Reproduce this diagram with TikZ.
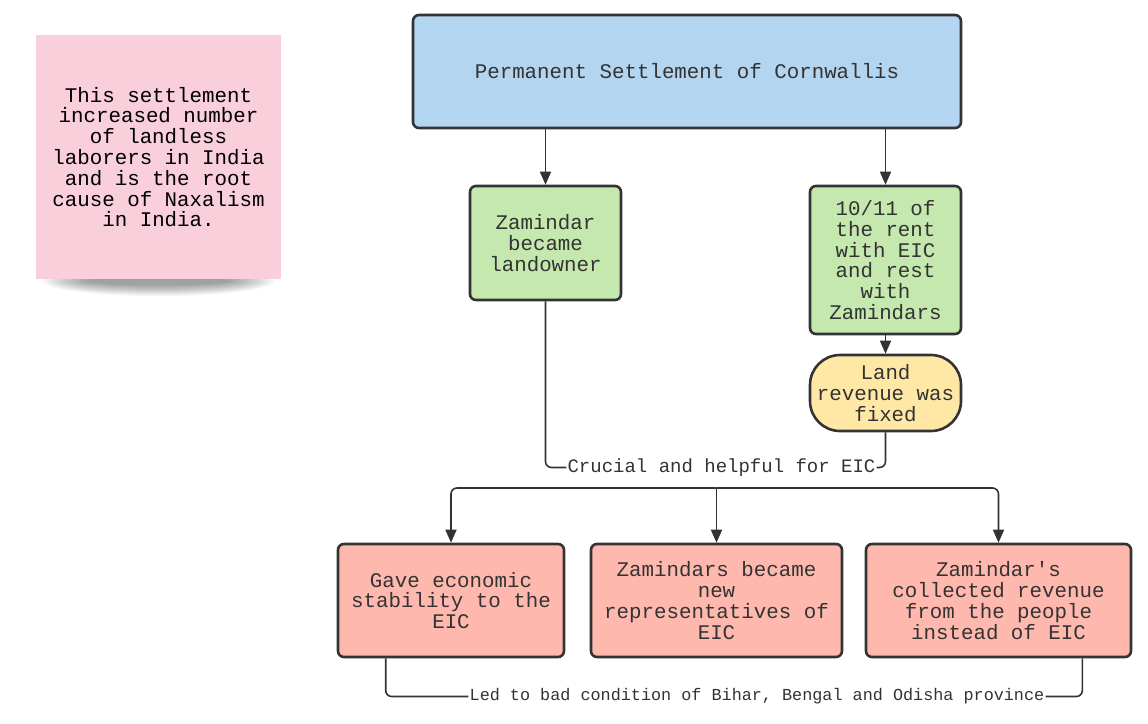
\documentclass[tikz,border=0pt]{standalone}
\usepackage{fontspec}
\newfontfamily\mono{Liberation Mono}
\usetikzlibrary{arrows.meta}
\definecolor{dk}{HTML}{333333}
\definecolor{notec}{RGB}{249,207,220}
\definecolor{bluec}{RGB}{179,213,240}
\definecolor{greenc}{RGB}{197,232,174}
\definecolor{yellowc}{RGB}{255,232,166}
\definecolor{redc}{RGB}{255,184,174}
\tikzset{
  box/.style={draw=dk, line width=2.6pt, rounded corners=6pt, inner sep=0pt, align=center,
    text=dk, font=\fontsize{20.8}{20.8}\selectfont\mono},
  conn/.style={draw=dk, line width=1.6pt, rounded corners=6pt},
  arr/.style={conn, -{Triangle[length=13pt,width=11pt]}},
  lbl/.style={fill=white, inner sep=1pt, text=dk},
}
\begin{document}
\begin{tikzpicture}[x=1pt,y=-1pt]
\useasboundingbox[fill=white] (0,0) rectangle (1148,723);
% soft shadow of note
\foreach \i in {0,...,11}{
  \pgfmathsetmacro{\wr}{116-4*\i}
  \pgfmathsetmacro{\hr}{15-1*\i}
  \fill[black, opacity=0.035] (158.5,281) ellipse [x radius=\wr, y radius=\hr];
}
\node[fill=notec, minimum width=245pt, minimum height=244pt, inner sep=0pt, align=center,
  font=\fontsize{20.8}{20.8}\selectfont\mono] (note) at (158.5,157)
  {This settlement\\increased number\\of landless\\laborers in India\\and is the root\\cause of Naxalism\\in India.};
\node[box, fill=bluec, minimum width=548pt, minimum height=113pt] (top) at (687,71.5)
  {Permanent Settlement of Cornwallis};
\node[box, fill=greenc, minimum width=151pt, minimum height=114pt] (gl) at (545.5,243)
  {Zamindar\\became\\landowner};
\node[box, fill=greenc, minimum width=151pt, minimum height=148pt] (gr) at (885.5,260)
  {10/11 of\\the rent\\with EIC\\and rest\\with\\Zamindars};
\node[box, fill=yellowc, rounded corners=30pt, minimum width=151pt, minimum height=76pt] (yl) at (885.5,393)
  {Land\\revenue was\\fixed};
\node[box, fill=redc, minimum width=226pt, minimum height=113pt] (rl) at (451,600.5)
  {Gave economic\\stability to the\\EIC};
\node[box, fill=redc, minimum width=251pt, minimum height=113pt] (rm) at (716.5,600.5)
  {Zamindars became\\new\\representatives of\\EIC};
\node[box, fill=redc, minimum width=265pt, minimum height=113pt] (rr) at (998.5,600.5)
  {Zamindar's\\collected revenue\\from the people\\instead of EIC};
% connectors
\draw[arr] (top.south -| gl.north) -- (gl.north);
\draw[arr] (top.south -| gr.north) -- (gr.north);
\draw[arr] (gr.south) -- (yl.north);
\node[lbl, font=\fontsize{19}{19}\selectfont\mono] (cru) at (721.5,467.5) {Crucial and helpful for EIC};
\draw[conn] (gl.south) |- (cru.west);
\draw[conn] (yl.south) |- (cru.east);
\coordinate (split) at (716.5,488);
\draw[arr] (split) -| (rl.north);
\draw[arr] (split) -| (rr.north);
\draw[arr] (split) -- (rm.north);
\node[lbl, font=\fontsize{16.8}{17}\selectfont\mono] (led) at (757,696.5) {Led to bad condition of Bihar, Bengal and Odisha province};
\draw[conn] ([xshift=49pt]rl.south west) |- (led.west);
\draw[conn] ([xshift=-50pt]rr.south east) |- (led.east);
\end{tikzpicture}
\end{document}
